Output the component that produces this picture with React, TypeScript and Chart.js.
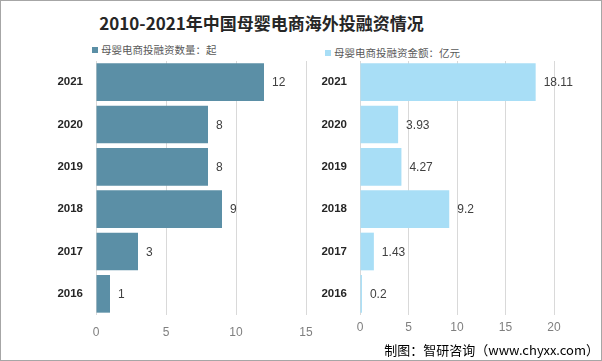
import React, { useEffect, useRef } from "react";
import { Chart, registerables } from "chart.js";

Chart.register(...registerables);

const years = ["2021", "2020", "2019", "2018", "2017", "2016"];
const dealCounts = [12, 8, 8, 9, 3, 1];
const dealAmounts = [18.11, 3.93, 4.27, 9.2, 1.43, 0.2];
const countTicks = [0, 5, 10, 15];
const amountTicks = [0, 5, 10, 15, 20];
const titleText = "2010-2021年中国母婴电商海外投融资情况";
const countLegend = "母婴电商投融资数量：起";
const amountLegend = "母婴电商投融资金额：亿元";
const sourceText = "制图：智研咨询（www.chyxx.com）";

const NUM_FONT = "'Liberation Sans', 'Noto Sans', sans-serif";
const CJK_FONT = "'Noto Sans CJK SC', 'Noto Sans', sans-serif";

const valueLabels = {
  id: "valueLabels",
  afterDatasetsDraw(chart: any) {
    const ctx = chart.ctx;
    const meta = chart.getDatasetMeta(0);
    const data = chart.data.datasets[0].data;
    ctx.save();
    ctx.font = `12px ${NUM_FONT}`;
    ctx.fillStyle = "#404040";
    ctx.textAlign = "left";
    ctx.textBaseline = "middle";
    meta.data.forEach((bar: any, i: number) => {
      ctx.fillText(String(data[i]), bar.x + 8, bar.y + 1);
    });
    ctx.restore();
  },
};

function makeConfig(
  values: number[],
  color: string,
  max: number,
  ticks: number[],
  yWidth: number,
  padRight: number,
  xPad: number
) {
  return {
    type: "bar" as const,
    data: {
      labels: years,
      datasets: [
        {
          data: values,
          backgroundColor: color,
          barPercentage: 0.89,
          categoryPercentage: 1,
        },
      ],
    },
    options: {
      indexAxis: "y" as const,
      responsive: false,
      animation: false as const,
      layout: { padding: { top: 7, right: padRight, left: 0, bottom: 0 } },
      plugins: { legend: { display: false }, tooltip: { enabled: false } },
      scales: {
        x: {
          min: 0,
          max: max,
          afterBuildTicks(scale: any) {
            scale.ticks = ticks.map((v) => ({ value: v }));
          },
          afterFit(scale: any) {
            scale.height = 30;
            scale.paddingLeft = 0;
            scale.paddingRight = 0;
          },
          grid: { color: "#D9D9D9", drawTicks: false, lineWidth: 1 },
          border: { display: false },
          ticks: {
            padding: xPad,
            color: "#7F7F7F",
            font: { family: NUM_FONT, size: 12 },
          },
        },
        y: {
          afterFit(scale: any) {
            scale.width = yWidth;
            scale.paddingTop = 0;
            scale.paddingBottom = 0;
          },
          grid: { display: false, drawTicks: false },
          border: { display: false },
          ticks: {
            padding: 13,
            color: "#262626",
            font: { family: NUM_FONT, size: 11.5, weight: "bold" as const },
          },
        },
      },
    },
    plugins: [valueLabels],
  };
}

export default function App() {
  const leftRef = useRef<HTMLCanvasElement>(null);
  const rightRef = useRef<HTMLCanvasElement>(null);

  useEffect(() => {
    const left = new Chart(leftRef.current!, makeConfig(dealCounts, "#5B8FA6", 15, countTicks, 96, 14, 10) as any);
    const right = new Chart(rightRef.current!, makeConfig(dealAmounts, "#A8DEF6", 20, amountTicks, 60, 48, 5) as any);
    return () => {
      left.destroy();
      right.destroy();
    };
  }, []);

  return (
    <div
      style={{
        position: "absolute",
        left: 0,
        top: 0,
        width: 602,
        height: 361,
        background: "#fff",
        boxSizing: "border-box",
        border: "1px solid #A6A6A6",
        overflow: "hidden",
      }}
    >
      <div
        style={{
          position: "absolute",
          left: 0,
          top: 10,
          width: 521,
          textAlign: "center",
          font: `bold 17px ${CJK_FONT}`,
          lineHeight: "24px",
          color: "#262626",
          whiteSpace: "nowrap",
        }}
      >
        {titleText}
      </div>
      <div
        style={{
          position: "absolute",
          left: 91,
          top: 41,
          font: `10.5px ${CJK_FONT}`,
          lineHeight: "16px",
          color: "#595959",
          whiteSpace: "nowrap",
          display: "flex",
          alignItems: "center",
        }}
      >
        <span style={{ display: "inline-block", width: 6, height: 6, background: "#5B8FA6", marginRight: 3 }} />
        {countLegend}
      </div>
      <div
        style={{
          position: "absolute",
          left: 324,
          top: 44,
          font: `10.5px ${CJK_FONT}`,
          lineHeight: "16px",
          color: "#595959",
          whiteSpace: "nowrap",
          display: "flex",
          alignItems: "center",
        }}
      >
        <span style={{ display: "inline-block", width: 6, height: 6, background: "#A8DEF6", marginRight: 3 }} />
        {amountLegend}
      </div>
      <canvas
        ref={leftRef}
        width={320}
        height={291}
        style={{ position: "absolute", left: -1, top: 53, width: 320, height: 291 }}
      />
      <canvas
        ref={rightRef}
        width={302}
        height={291}
        style={{ position: "absolute", left: 299, top: 53, width: 302, height: 291 }}
      />
      <div
        style={{
          position: "absolute",
          right: 2,
          top: 340,
          font: `13px ${CJK_FONT}`,
          lineHeight: "18px",
          color: "#000",
          whiteSpace: "nowrap",
        }}
      >
        {sourceText}
      </div>
    </div>
  );
}
